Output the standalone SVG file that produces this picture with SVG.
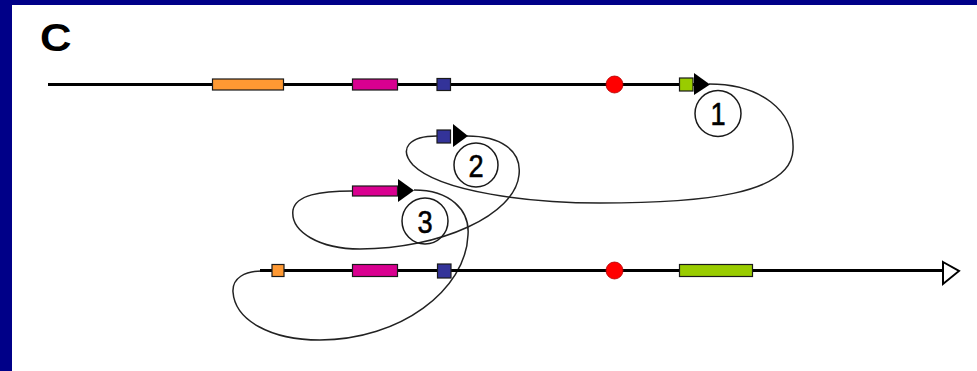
<svg xmlns="http://www.w3.org/2000/svg" width="977" height="371" viewBox="0 0 977 371">
  <style>
    .backbone { stroke: #000; stroke-width: 3.2; fill: none; }
    .loop { stroke: #222; stroke-width: 1.5; fill: none; }
    .box { stroke: #1a1a1a; stroke-width: 1.2; }
    .orange { fill: #ff9933; }
    .magenta { fill: #d90090; }
    .blue { fill: #333399; }
    .green { fill: #99cc00; }
    .site { fill: #ff0000; stroke: #b00000; stroke-width: 0.8; }
    .badge { fill: none; stroke: #1a1a1a; stroke-width: 1.5; }
    .num { font-family: "Liberation Sans", Arial, sans-serif; font-size: 32px; text-anchor: middle; fill: #000; stroke: #000; stroke-width: 0.6; }
    .title { font-family: "Liberation Sans", Arial, sans-serif; font-size: 39px; font-weight: bold; fill: #000; }
  </style>

  <!-- frame -->
  <rect x="0" y="0" width="977" height="371" fill="#000088"/>
  <rect x="12" y="5" width="965" height="366" fill="#ffffff"/>

  <text class="title" transform="translate(40,51) scale(1.12,1)">C</text>

  <!-- connectors: looping strand joining the fragments -->
  <g id="connectors">
    <path class="loop" d="M709,84 C760,84 795,110 793,150 C791,195 700,203 600,203 C530,203 440,192 413,165 C398,148 410,136 437,136"/>
    <path class="loop" d="M467,136 C500,136 522,150 519,175 C515,215 440,249 360,249 C320,249 290,232 293,210 C296,195 320,191 352,191"/>
    <path class="loop" d="M414,190 C450,190 470,210 468,235 C466,290 400,340 320,340 C270,340 235,320 233,292 C232,278 245,271 262,271"/>
  </g>

  <!-- top strand -->
  <g id="strand-top">
    <line class="backbone" x1="48" y1="84.5" x2="695" y2="84.5"/>
    <rect class="box orange" x="212.5" y="79" width="71" height="11"/>
    <rect class="box magenta" x="352.5" y="79" width="45" height="11"/>
    <rect class="box blue" x="437" y="78.5" width="13.5" height="12"/>
    <circle class="site" cx="614.5" cy="84.5" r="8.5"/>
    <rect class="box green" x="679.5" y="78" width="13.5" height="13"/>
    <polygon points="694,73 710,84.5 694,95" fill="#000"/>
  </g>

  <!-- middle fragments -->
  <g id="fragment-2">
    <rect class="box blue" x="437" y="130" width="13.5" height="13"/>
    <polygon points="453,124 468,136 453,147" fill="#000"/>
  </g>
  <g id="fragment-3">
    <rect class="box magenta" x="352.5" y="186" width="45" height="10"/>
    <polygon points="398,179 414,190.5 398,202" fill="#000"/>
  </g>

  <!-- bottom strand -->
  <g id="strand-bottom">
    <line class="backbone" x1="260" y1="270.5" x2="944" y2="270.5" style="stroke-width:2.8"/>
    <rect class="box orange" x="272" y="264.5" width="12" height="12"/>
    <rect class="box magenta" x="352.5" y="264.5" width="45" height="12"/>
    <rect class="box blue" x="437.5" y="264" width="13.5" height="14"/>
    <circle class="site" cx="614.5" cy="270.5" r="8.5"/>
    <rect class="box green" x="679.5" y="264.5" width="73" height="12"/>
    <polygon points="943,262 959,271 943,284" fill="#fff" stroke="#000" stroke-width="2"/>
  </g>

  <!-- step badges -->
  <g id="badge-1">
    <circle class="badge" cx="718" cy="113.5" r="23"/>
    <text class="num" transform="translate(718,125) scale(0.85,1)">1</text>
  </g>
  <g id="badge-2">
    <circle class="badge" cx="476" cy="165" r="22"/>
    <text class="num" transform="translate(476,176.5) scale(0.85,1)">2</text>
  </g>
  <g id="badge-3">
    <circle class="badge" cx="425" cy="221" r="23"/>
    <text class="num" transform="translate(425,232.5) scale(0.85,1)">3</text>
  </g>
</svg>
